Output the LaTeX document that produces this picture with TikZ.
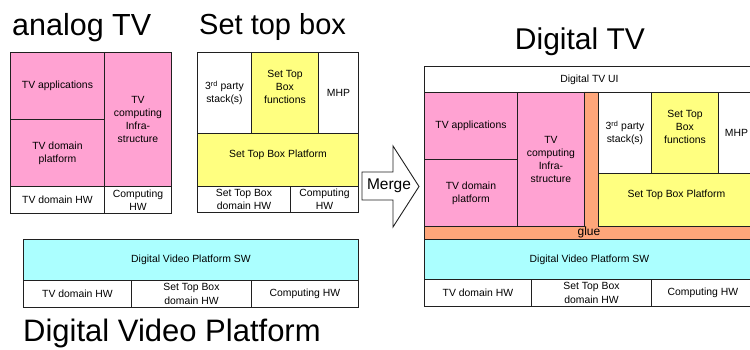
\documentclass[tikz,border=0pt]{standalone}
\usepackage{fontspec}
\setmainfont{Liberation Sans}
\definecolor{cpink}{HTML}{FFA2D2}
\definecolor{cyell}{HTML}{FFFF80}
\definecolor{ccyan}{HTML}{ABFFFF}
\definecolor{corng}{HTML}{FFA67A}
\definecolor{cline}{HTML}{202020}
\tikzset{
  cell/.style={draw=cline, line width=0.9pt, inner sep=0pt, anchor=north west, align=center,
    font=\fontsize{10.4}{13.2}\selectfont, fill=white},
  pinkc/.style={cell, fill=cpink},
  yelc/.style={cell, fill=cyell},
  cyac/.style={cell, fill=ccyan},
  lifted/.style={text depth=12pt},
  wh/.style 2 args={minimum width=#1pt, minimum height=#2pt},
  title/.style={inner sep=0pt, anchor=base west, font=\fontsize{30}{36}\selectfont},
}
\begin{document}
\begin{tikzpicture}[x=1pt, y=-1pt]
\useasboundingbox (0,0) rectangle (750,350);
\clip (0,0) rectangle (750,350);
% titles
\node[title, font=\fontsize{30.5}{36}\selectfont] (tAnalog) at (12,36) {analog TV};
\node[title, font=\fontsize{29}{36}\selectfont] (tSTB) at (199,35) {Set top box};
\node[title, anchor=base] (tDTV) at (580,50) {Digital TV};
\node[title, font=\fontsize{31}{36}\selectfont] (tDVP) at (23,341) {Digital Video Platform};
% analog TV
\node[pinkc, wh={94}{67}] (aApp) at (10,52) {TV applications};
\node[pinkc, wh={94}{67}] (aDom) at (10,119) {TV domain\\platform};
\node[pinkc, wh={67}{134}] (aComp) at (104,52) {TV\\computing\\Infra-\\structure};
\node[cell, wh={94}{27}] (aHW1) at (10,186) {TV domain HW};
\node[cell, wh={67}{27}] (aHW2) at (104,186) {Computing\\HW};
% set top box
\node[cell, wh={54}{81}] (s3rd) at (197,52) {3\textsuperscript{rd} party\\stack(s)};
\node[yelc, lifted, wh={67}{81}] (sFun) at (251,52) {Set Top\\Box\\functions};
\node[cell, wh={40}{81}] (sMHP) at (318,52) {MHP};
\node[yelc, lifted, wh={161}{53}] (sPlat) at (197,133) {Set Top Box Platform};
\node[cell, wh={93}{26}] (sHW1) at (197,186) {Set Top Box\\domain HW};
\node[cell, wh={68}{26}] (sHW2) at (290,186) {Computing\\HW};
% digital video platform
\node[cyac, wh={335}{41}] (dSW) at (23,239) {Digital Video Platform SW};
\node[cell, wh={108}{27}] (dHW1) at (23,280) {TV domain HW};
\node[cell, wh={120}{27}] (dHW2) at (131,280) {Set Top Box\\domain HW};
\node[cell, wh={107}{27}] (dHW3) at (251,280) {Computing HW};
% merge arrow
\draw[draw=cline, line width=0.9pt, fill=white] (362,172) -- (393,172) -- (393,146) -- (419,186.5)
  -- (393,227) -- (393,200) -- (362,200) -- cycle;
\node[inner sep=0pt, font=\fontsize{15.5}{18}\selectfont] (merge) at (389,186) {Merge};
% digital TV
\node[cell, wh={330}{26}] (tUI) at (424,66) {Digital TV UI};
\draw[draw=cline, line width=0.9pt, fill=corng] (584,92) -- (598,92) -- (598,226) -- (754,226)
  -- (754,239) -- (424,239) -- (424,226) -- (584,226) -- cycle;
\node[pinkc, wh={93}{67}] (tApp) at (424,92) {TV applications};
\node[pinkc, wh={93}{67}] (tDom) at (424,159) {TV domain\\platform};
\node[pinkc, wh={67}{134}] (tComp) at (517,92) {TV\\computing\\Infra-\\structure};
\node[cell, wh={53}{81}] (t3rd) at (598,92) {3\textsuperscript{rd} party\\stack(s)};
\node[yelc, lifted, wh={67}{81}] (tFun) at (651,92) {Set Top\\Box\\functions};
\node[cell, wh={36}{81}] (tMHP) at (718,92) {MHP};
\node[yelc, lifted, wh={156}{53}] (tPlat) at (598,173) {Set Top Box Platform};
\node[inner sep=0pt, font=\fontsize{12}{14}\selectfont] (glue) at (589,232.5) {glue};
\node[cyac, wh={330}{40}] (tSW) at (424,239) {Digital Video Platform SW};
\node[cell, wh={107}{27}] (tHW1) at (424,279) {TV domain HW};
\node[cell, wh={120}{27}] (tHW2) at (531,279) {Set Top Box\\domain HW};
\node[cell, wh={103}{27}] (tHW3) at (651,279) {Computing HW};
\end{tikzpicture}
\end{document}
